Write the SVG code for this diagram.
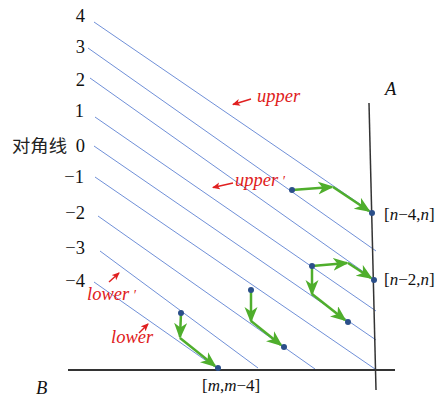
<svg xmlns="http://www.w3.org/2000/svg" width="438" height="398" viewBox="0 0 438 398">
  <style>
    .diag { stroke: #7090d8; stroke-width: 1; fill: none; }
    .axis { stroke: #333; fill: none; }
    .g { stroke: #4fae2c; stroke-width: 2.5; fill: none; marker-end: url(#ga); }
    .r { stroke: #e02020; stroke-width: 1.5; fill: none; marker-end: url(#ra); }
    .dot { fill: #2b4f8a; }
    .num { font-family: "Liberation Serif", "Times New Roman", serif; font-size: 18.5px; fill: #111; }
    .pl { font-family: "Liberation Serif", "Times New Roman", serif; font-size: 17px; fill: #111; }
    .it { font-style: italic; }
    .red { font-family: "Liberation Serif", "Times New Roman", serif; font-size: 18.5px; font-style: italic; fill: #e02020; }
    .cjk { font-family: "Noto Sans CJK SC", sans-serif; font-size: 17px; fill: #222; }
  </style>
  <defs>
    <marker id="ga" markerUnits="userSpaceOnUse" markerWidth="18" markerHeight="14" refX="14" refY="6.5" orient="auto">
      <path d="M0,0 L16,6.5 L0,13 L4.5,6.5 z" fill="#4fae2c"/>
    </marker>
    <marker id="ra" markerUnits="userSpaceOnUse" markerWidth="10" markerHeight="8" refX="7" refY="3.5" orient="auto">
      <path d="M0,0 L8,3.5 L0,7 L2,3.5 z" fill="#e02020"/>
    </marker>
  </defs>
  <rect width="438" height="398" fill="#fff"/>

  <g id="diagonals">
    <line class="diag" x1="94" y1="22" x2="373" y2="213"/>
    <line class="diag" x1="88" y1="48" x2="376" y2="251"/>
    <line class="diag" x1="90" y1="78" x2="375" y2="280"/>
    <line class="diag" x1="95" y1="117" x2="376" y2="311"/>
    <line class="diag" x1="94" y1="146" x2="376" y2="340"/>
    <line class="diag" x1="95" y1="177" x2="375" y2="369"/>
    <line class="diag" x1="98" y1="216" x2="315" y2="369"/>
    <line class="diag" x1="100" y1="251" x2="258" y2="368"/>
    <line class="diag" x1="94" y1="282" x2="218" y2="369"/>
  </g>

  <g id="axes">
    <line class="axis" x1="369" y1="103" x2="376" y2="390" stroke-width="1.5"/>
    <line class="axis" x1="68" y1="370" x2="395" y2="370" stroke="#555" stroke-width="2"/>
  </g>

  <g id="connectors">
    <line class="g" x1="292" y1="190" x2="332" y2="187"/>
    <line class="g" x1="333" y1="187" x2="369" y2="211"/>
    <line class="g" x1="312" y1="266" x2="347" y2="263"/>
    <line class="g" x1="348" y1="263" x2="371" y2="278"/>
    <line class="g" x1="312" y1="266" x2="312" y2="294"/>
    <line class="g" x1="312" y1="294" x2="345" y2="320"/>
    <line class="g" x1="251" y1="290" x2="251" y2="321"/>
    <line class="g" x1="251" y1="321" x2="281" y2="345"/>
    <line class="g" x1="181" y1="313" x2="180" y2="337"/>
    <line class="g" x1="180" y1="338" x2="215" y2="366"/>
    <line class="r" x1="251" y1="99" x2="233" y2="104.5"/>
    <line class="r" x1="233" y1="183" x2="213" y2="187.5"/>
    <line class="r" x1="109" y1="282" x2="119" y2="273"/>
    <line class="r" x1="139" y1="333" x2="148" y2="324"/>
  </g>

  <g id="points">
    <circle class="dot" cx="372" cy="213" r="3"/>
    <circle class="dot" cx="374" cy="280" r="3"/>
    <circle class="dot" cx="292" cy="190" r="3"/>
    <circle class="dot" cx="312" cy="266" r="3"/>
    <circle class="dot" cx="348" cy="322" r="3"/>
    <circle class="dot" cx="284" cy="347" r="3"/>
    <circle class="dot" cx="251" cy="290" r="3"/>
    <circle class="dot" cx="181" cy="313" r="3"/>
    <circle class="dot" cx="218" cy="368" r="3"/>
  </g>

  <g id="diag-labels" class="num" text-anchor="end">
    <text x="85" y="22">4</text>
    <text x="85" y="53">3</text>
    <text x="85" y="86">2</text>
    <text x="84" y="117">1</text>
    <text x="85" y="152">0</text>
    <text x="84" y="183">−1</text>
    <text x="85" y="219">−2</text>
    <text x="85" y="254">−3</text>
    <text x="85" y="287">−4</text>
  </g>
  <text id="label-diag" class="cjk" x="12" y="152" textLength="55" lengthAdjust="spacingAndGlyphs">对角线</text>

  <g id="label-A"><text class="num it" x="385" y="95">A</text></g>
  <g id="label-B"><text class="num it" x="36" y="394">B</text></g>

  <g id="point-labels" class="pl">
    <text x="384" y="220">[<tspan class="it">n</tspan>−4,<tspan class="it">n</tspan>]</text>
    <text x="384" y="285">[<tspan class="it">n</tspan>−2,<tspan class="it">n</tspan>]</text>
    <text x="202" y="391">[<tspan class="it">m</tspan>,<tspan class="it">m</tspan>−4]</text>
  </g>

  <g id="red-labels" class="red">
    <text x="257" y="102">upper</text>
    <text x="235" y="186">upper <tspan font-style="normal" font-size="14">′</tspan></text>
    <text x="87" y="300">lower <tspan font-style="normal" font-size="14">′</tspan></text>
    <text x="111" y="343">lower</text>
  </g>
</svg>
